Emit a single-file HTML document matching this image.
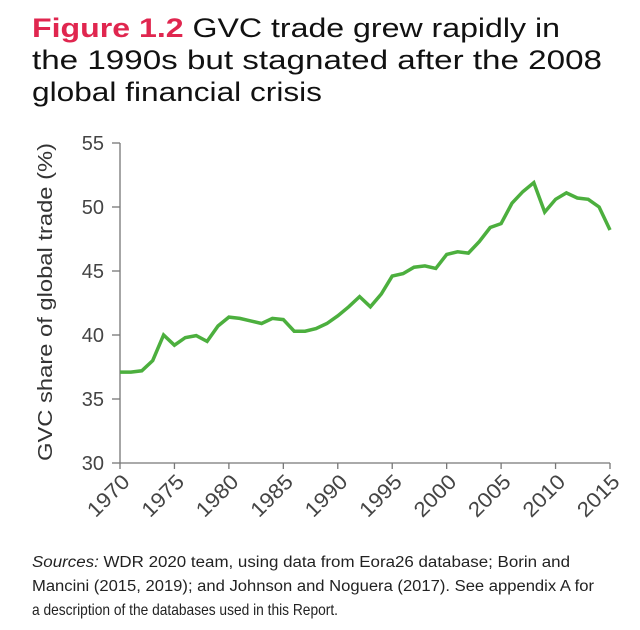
<!DOCTYPE html>
<html><head><meta charset="utf-8"><style>
html,body{margin:0;padding:0;background:#fff;}
svg{display:block;font-family:"Liberation Sans",sans-serif;}
</style></head><body>
<svg id="chart" width="640" height="630" viewBox="0 0 640 630">
  <g font-size="27" fill="#111">
    <text x="32" y="37" textLength="528" lengthAdjust="spacingAndGlyphs"><tspan fill="#e0264f" font-weight="bold">Figure 1.2</tspan><tspan>  GVC trade grew rapidly in</tspan></text>
    <text x="32" y="69" textLength="570" lengthAdjust="spacingAndGlyphs">the 1990s but stagnated after the 2008</text>
    <text x="32" y="101" textLength="290" lengthAdjust="spacingAndGlyphs">global financial crisis</text>
  </g>
  <text transform="translate(52,302) rotate(-90)" text-anchor="middle" font-size="20" fill="#333" textLength="318" lengthAdjust="spacingAndGlyphs">GVC share of global trade (%)</text>
  <g id="axes"></g>
  <g id="series"></g>
  <g font-size="15.5" fill="#222">
    <text x="32" y="567" textLength="538" lengthAdjust="spacingAndGlyphs"><tspan font-style="italic">Sources:</tspan> WDR 2020 team, using data from Eora26 database; Borin and</text>
    <text x="32" y="591" textLength="562" lengthAdjust="spacingAndGlyphs">Mancini (2015, 2019); and Johnson and Noguera (2017). See appendix A for</text>
    <text x="32" y="615" textLength="306" lengthAdjust="spacingAndGlyphs" font-size="16">a description of the databases used in this Report.</text>
  </g>
</svg>
<script>
const years = [1970,1971,1972,1973,1974,1975,1976,1977,1978,1979,1980,1981,1982,1983,1984,1985,1986,1987,1988,1989,1990,1991,1992,1993,1994,1995,1996,1997,1998,1999,2000,2001,2002,2003,2004,2005,2006,2007,2008,2009,2010,2011,2012,2013,2014,2015];
const gvcShare = [37.1,37.1,37.2,38.0,40.0,39.2,39.8,39.95,39.5,40.7,41.4,41.3,41.1,40.9,41.3,41.2,40.3,40.3,40.5,40.9,41.5,42.2,43.0,42.2,43.2,44.6,44.8,45.3,45.4,45.2,46.3,46.5,46.4,47.3,48.4,48.7,50.3,51.2,51.9,49.6,50.6,51.1,50.7,50.6,50.0,48.2];
const yTicks = [30,35,40,45,50,55];
const xTicks = [1970,1975,1980,1985,1990,1995,2000,2005,2010,2015];

const NS = "http://www.w3.org/2000/svg";
const x0 = 120, x1 = 610, yTop = 143, yBot = 463;
const xMin = 1970, xMax = 2015, yMin = 30, yMax = 55;
const xs = v => x0 + (v - xMin) / (xMax - xMin) * (x1 - x0);
const ys = v => yBot - (v - yMin) / (yMax - yMin) * (yBot - yTop);
function mk(tag, attrs, parent) {
  const e = document.createElementNS(NS, tag);
  for (const k in attrs) e.setAttribute(k, attrs[k]);
  parent.appendChild(e);
  return e;
}
const axes = document.getElementById('axes');
const yAxis = mk('line', {x1: x0, y1: yTop, x2: x0, y2: yBot, stroke: '#777', 'stroke-width': 1.3}, axes);


const xAxis = mk('line', {x1: x0, y1: yBot, x2: x1, y2: yBot, stroke: '#777', 'stroke-width': 1.3}, axes);


yTicks.forEach(t => {
  const y = ys(t);
  const tk = mk('line', {x1: x0 - 8, y1: y, x2: x0, y2: y, stroke: '#777', 'stroke-width': 1.3}, axes);
  
  
  const lb = mk('text', {x: 104, y: y + 7, 'text-anchor': 'end', 'font-size': 20, fill: '#444'}, axes);
  lb.textContent = t;
  
  
});
xTicks.forEach(t => {
  const x = xs(t);
  const tk = mk('line', {x1: x, y1: yBot, x2: x, y2: yBot + 6, stroke: '#777', 'stroke-width': 1.3}, axes);
  
  
  const lb = mk('text', {transform: 'translate(' + (x + 11) + ',' + (yBot + 20) + ') rotate(-45)', 'text-anchor': 'end', 'font-size': 21, fill: '#444', textLength: 50, lengthAdjust: 'spacingAndGlyphs'}, axes);
  lb.textContent = t;
  
  
});
const series = document.getElementById('series');
const pts = years.map((yr, i) => xs(yr).toFixed(1) + ',' + ys(gvcShare[i]).toFixed(1)).join(' ');
const line = mk('polyline', {points: pts, fill: 'none', stroke: '#4caf3e', 'stroke-width': 3.5, 'stroke-linejoin': 'miter'}, series);


</script>
</body></html>
